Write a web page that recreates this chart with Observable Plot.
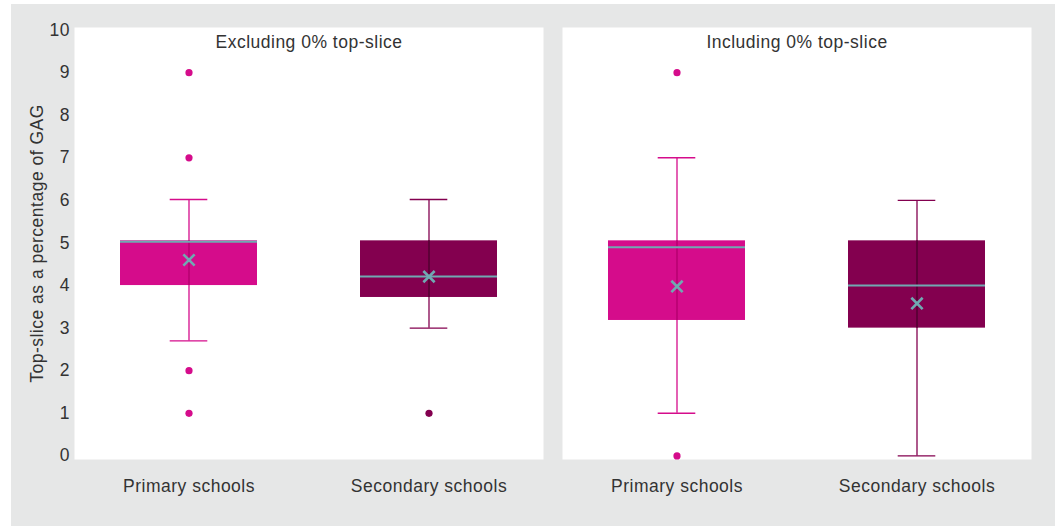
<!DOCTYPE html>
<html>
<head>
<meta charset="utf-8">
<script src="https://cdn.jsdelivr.net/npm/d3@7"></script>
<script src="https://cdn.jsdelivr.net/npm/@observablehq/plot@0.6"></script>
<style>
  html, body { margin: 0; padding: 0; background: #ffffff; }
  #wrap { position: relative; width: 1062px; height: 526px; }
  #backdrop { position: absolute; left: 11px; top: 4px; width: 1044px; height: 522px; background: #e6e7e7; }
  #chart { position: absolute; left: 0; top: 0; }
</style>
</head>
<body>
<div id="wrap">
  <div id="backdrop"></div>
  <div id="chart"></div>
</div>
<script>
// Panels and categories
const panels = ["Excluding 0% top-slice", "Including 0% top-slice"];
const schoolTypes = ["Primary schools", "Secondary schools"];

// Box-plot summaries, one entry per panel/category pair
const boxPanel    = [panels[0], panels[0], panels[1], panels[1]];
const boxType     = [schoolTypes[0], schoolTypes[1], schoolTypes[0], schoolTypes[1]];
const whiskerLow  = [2.7, 3.0, 1.0, 0];
const quartile1   = [4.0, 3.72, 3.18, 3.0];
const medians     = [5.03, 4.21, 4.9, 4.0];
const quartile3   = [5.05, 5.05, 5.05, 5.05];
const whiskerHigh = [6.02, 6.02, 7.0, 6.0];
const means       = [4.6, 4.21, 3.98, 3.58];

// Outlying points
const outlierPanel = [panels[0], panels[0], panels[0], panels[0], panels[0], panels[1], panels[1]];
const outlierType  = [schoolTypes[0], schoolTypes[0], schoolTypes[0], schoolTypes[0], schoolTypes[1], schoolTypes[0], schoolTypes[0]];
const outlierValue = [9, 7, 2, 1, 1, 9, 0];

// Axis ticks
const yTicks = [0, 1, 2, 3, 4, 5, 6, 7, 8, 9, 10];

const boxes = boxPanel.map((p, i) => ({
  panel: p, type: boxType[i],
  low: whiskerLow[i], q1: quartile1[i], median: medians[i],
  q3: quartile3[i], high: whiskerHigh[i], mean: means[i]
}));
const outliers = outlierPanel.map((p, i) => ({panel: p, type: outlierType[i], value: outlierValue[i]}));

const typeColors = ["#d50c8b", "#83004f"];
const stemInBox = {"Primary schools": "#b2006c", "Secondary schools": "#4a002c"};
const statColor = "#70a9b2";
const capInset = 49.7;

const chart = Plot.plot({
  width: 1062,
  height: 526,
  marginLeft: 74,
  marginRight: 30,
  marginTop: 27,
  marginBottom: 67,
  style: {
    fontFamily: "'Liberation Sans', Arial, sans-serif",
    fontSize: "17.5px",
    letterSpacing: "0.5px",
    color: "#333333",
    background: "transparent"
  },
  fx: {domain: panels, paddingInner: 0.0389, paddingOuter: 0, axis: null, label: null},
  x: {domain: schoolTypes, paddingInner: 0.43, paddingOuter: 0.19, label: null},
  y: {domain: [-0.085, 10.06], label: null},
  color: {domain: schoolTypes, range: typeColors},
  marks: [
    Plot.frame({fill: "white"}),
    Plot.axisX({tickSize: 0, tickPadding: 20, label: null}),
    Plot.axisY({
      ticks: yTicks, tickSize: 0, tickPadding: 4.5,
      label: "Top-slice as a percentage of GAG",
      labelAnchor: "center", labelArrow: "none", labelOffset: 44
    }),
    // interquartile boxes
    Plot.barY(boxes, {fx: "panel", x: "type", y1: "q1", y2: "q3", fill: "type"}),
    // whisker stems
    Plot.ruleX(boxes, {fx: "panel", x: "type", y1: "low", y2: "high", stroke: "type", strokeWidth: 1.3}),
    // darker stretch of the stem where it crosses the box
    Plot.ruleX(boxes, {fx: "panel", x: "type", y1: "q1", y2: "q3", stroke: d => stemInBox[d.type], strokeWidth: 1.3}),
    // whisker caps
    Plot.tickY(boxes, {fx: "panel", x: "type", y: "low", stroke: "type", strokeWidth: 1.4, insetLeft: capInset, insetRight: capInset}),
    Plot.tickY(boxes, {fx: "panel", x: "type", y: "high", stroke: "type", strokeWidth: 1.4, insetLeft: capInset, insetRight: capInset}),
    // medians
    Plot.tickY(boxes, {fx: "panel", x: "type", y: "median", stroke: statColor, strokeWidth: 2}),
    // means
    Plot.dot(boxes, {fx: "panel", x: "type", y: "mean", symbol: "times", r: 5.2, stroke: statColor, strokeWidth: 2.6}),
    // outliers
    Plot.dot(outliers, {fx: "panel", x: "type", y: "value", fill: "type", r: 3.6}),
    // panel titles
    Plot.text(panels, {fx: d => d, text: d => d, frameAnchor: "top", lineAnchor: "top", dy: 8, fill: "#333333"})
  ]
});

document.getElementById("chart").append(chart);
</script>
</body>
</html>
